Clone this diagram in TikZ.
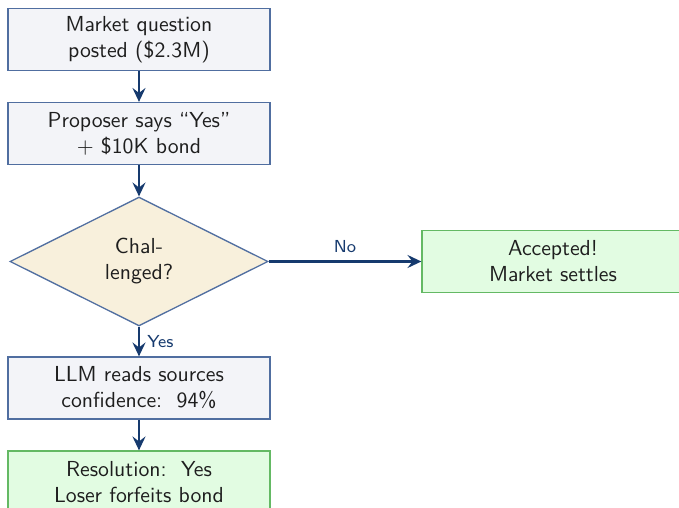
\documentclass[tikz,border=0pt]{standalone}
\usetikzlibrary{shapes.geometric,arrows.meta}
\definecolor{arrowblue}{RGB}{22,58,110}
\definecolor{boxborder}{RGB}{80,110,160}
\definecolor{boxfill}{RGB}{243,244,248}
\definecolor{diafill}{RGB}{248,240,220}
\definecolor{greenfill}{RGB}{226,252,226}
\definecolor{greenborder}{RGB}{100,185,100}
\definecolor{txt}{RGB}{30,30,30}
\tikzset{
  base/.style={font=\sffamily\fontsize{10}{12}\selectfont, text=txt, align=center, line width=0.6pt},
  procbox/.style={base, rectangle, draw=boxborder, fill=boxfill, minimum width=120.5pt, minimum height=28.5pt, inner sep=1pt},
  okbox/.style={base, rectangle, draw=greenborder, fill=greenfill, minimum width=120.5pt, minimum height=28.5pt, inner sep=1pt},
  decision/.style={base, diamond, aspect=2, draw=boxborder, fill=diafill, minimum width=118.7pt, minimum height=59.3pt, inner sep=0pt},
  flow/.style={draw=arrowblue, line width=1pt, -{Stealth[length=6.4pt,width=6pt,inset=2.3pt]}},
  lbl/.style={font=\sffamily\fontsize{8}{10}\selectfont, text=arrowblue}
}
\begin{document}
\begin{tikzpicture}[x=0.46pt,y=0.46pt]
\useasboundingbox (0,0) rectangle (679,-508);
\node[procbox] (post) at (139,-39.5) {Market question\\posted (\$2.3M)};
\node[procbox] (prop) at (139,-133.5) {Proposer says ``Yes''\\+ \$10K bond};
\node[decision] (chal) at (139,-261.5) {Chal-\\lenged?};
\node[okbox] (acc) at (553,-261.5) {Accepted!\\Market settles};
\node[procbox] (llm) at (139,-388) {LLM reads sources\\confidence:~~94\%};
\node[okbox] (res) at (139,-482) {Resolution:~~Yes\\Loser forfeits bond};
\draw[flow] (post) -- (prop);
\draw[flow] (prop) -- (chal);
\draw[flow] (chal) -- node[lbl, above, pos=0.5] {No} (acc);
\draw[flow] (chal) -- node[lbl, right, pos=0.5] {Yes} (llm);
\draw[flow] (llm) -- (res);
\end{tikzpicture}
\end{document}
